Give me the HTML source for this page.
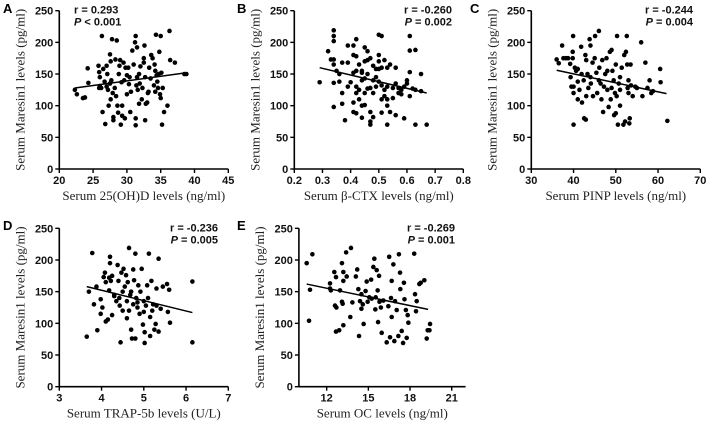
<!DOCTYPE html>
<html><head><meta charset="utf-8"><style>
html,body{margin:0;padding:0;background:#fff}
svg{display:block}
.tk{font:bold 11px "Liberation Sans",sans-serif;fill:#111}
.ttl{font:13px "Liberation Serif",serif;fill:#222}
.lt{font:bold 13px "Liberation Sans",sans-serif;fill:#000}
.an{font:bold 11px "Liberation Sans",sans-serif;fill:#111}
</style></head><body>
<svg id="fig" width="708" height="426" viewBox="0 0 708 426" xmlns="http://www.w3.org/2000/svg"></svg>
<script>
const yTicks=[0,50,100,150,200,250];
const aTicks=[20,25,30,35,40,45];
const aX=[22.3,22.6,23.5,23.8,24.2,24.3,25.8,25.9,26.0,26,25.9,26.3,26.4,26.5,26.7,26.8,27,27,27.1,27.2,27.5,27.6,27.7,27.6,27.8,27.9,28,28,28.2,28.3,28.4,28.5,28.6,28.7,28.9,29,29.1,29.3,29.3,29.5,29.6,29.7,29.8,30,30,30.2,30.3,30.5,30.6,30.8,31,31.2,31.3,31.3,31.3,31.4,31.5,31.5,31.6,31.8,31.9,32,32.2,32.3,32.5,32.5,32.6,32.7,32.7,32.8,33,33.1,33.3,33.5,33.6,33.8,34,34.1,34.2,34.3,34.4,34.5,34.6,34.7,34.8,34.9,35,35,35.1,35.2,35.3,35.5,36,36.3,36.4,37.1,38.5,38.8,26.2,27.3,28.8,30.4,33.2,31.8,29.2,27.5,34.2];
const aY=[125,118,112,113,159,136,163,153,145,131,128,210,90,158,138,71,163,130,150,125,181,170,140,110,205,120,82,77,128,173,115,203,100,89,163,172,70,100,84,168,140,80,160,118,148,160,134,90,122,187,165,200,210,80,69,132,145,192,125,150,135,162,110,128,168,175,195,145,77,103,105,120,160,143,180,175,132,165,122,212,148,138,128,150,185,118,210,112,152,70,128,90,100,218,172,168,150,150,128,100,150,145,122,103,137,135,155];
const aFit=[22.3,128,38.8,152];
const bTicks=[0.2,0.3,0.4,0.5,0.6,0.7,0.8];
const bX=[0.29,0.32,0.33,0.34,0.34,0.34,0.34,0.34,0.34,0.34,0.35,0.36,0.36,0.37,0.37,0.37,0.38,0.39,0.39,0.39,0.40,0.41,0.41,0.41,0.41,0.41,0.42,0.42,0.42,0.42,0.42,0.42,0.43,0.43,0.43,0.44,0.44,0.44,0.44,0.45,0.45,0.45,0.45,0.45,0.46,0.46,0.46,0.47,0.47,0.47,0.47,0.47,0.48,0.48,0.48,0.48,0.49,0.49,0.49,0.50,0.50,0.50,0.50,0.50,0.51,0.51,0.51,0.51,0.51,0.52,0.52,0.52,0.53,0.53,0.53,0.53,0.53,0.54,0.54,0.55,0.55,0.56,0.56,0.56,0.57,0.57,0.58,0.59,0.59,0.60,0.60,0.61,0.61,0.61,0.61,0.62,0.63,0.63,0.63,0.65,0.65,0.67,0.58,0.46,0.44];
const bY=[137,186,173,219,210,202,173,165,136,98,155,150,138,168,120,103,77,195,168,130,137,195,180,152,105,90,205,178,155,130,120,88,165,125,110,155,140,100,81,192,170,143,120,101,186,172,150,175,128,90,75,70,163,140,120,82,158,145,130,180,170,158,138,212,210,160,110,89,132,172,125,115,160,130,110,100,70,165,90,128,112,160,135,85,128,120,125,80,130,140,135,210,187,153,115,127,188,125,70,150,123,70,118,127,152];
const bFit=[0.29,160,0.67,120];
const cTicks=[30,40,50,60,70];
const cX=[36,36.5,37.3,37.6,38.2,38.7,39.2,39.3,39.5,39.8,39.8,39.9,40,40,40,40.3,40.6,41,41,41.4,41.8,41.9,42,42.4,42.5,42.8,42.9,43,43.3,43.5,43.8,44,44.1,44.5,44.6,45,45.1,45.4,45.6,46,46.1,46.4,46.6,46.8,47,47.2,47.5,47.8,48,48.3,48.6,48.8,49,49.2,49.5,49.6,49.8,50,50,50.2,50.3,50.5,50.7,51,51,51.4,51.8,52,52.2,52.4,52.6,52.7,52.8,53,53.2,53.3,53.5,53.6,54,54.6,55,56,56.3,57,57.5,58,58.4,58.8,60.5,60.6,62.2,46,44,48,51,43,41,53,49];
const cY=[173,167,195,175,175,175,166,145,130,185,175,210,70,120,130,160,155,158,138,125,193,150,105,140,80,180,78,172,150,128,205,195,135,168,115,175,210,152,120,218,160,135,110,172,90,130,150,175,125,98,185,110,188,155,140,85,120,165,88,115,210,70,135,145,100,160,70,180,75,185,210,165,128,120,72,80,165,132,115,130,128,200,115,168,128,140,120,123,158,137,76,140,145,155,125,115,110,140,128];
const cFit=[36,156,62,119];
const dTicks=[3,4,5,6,7];
const dX=[3.65,3.7,3.78,3.82,3.88,3.9,3.98,3.98,4.02,4.05,4.08,4.1,4.1,4.15,4.18,4.18,4.2,4.2,4.22,4.25,4.25,4.3,4.35,4.38,4.4,4.42,4.43,4.45,4.47,4.5,4.5,4.52,4.55,4.58,4.6,4.62,4.65,4.65,4.68,4.7,4.72,4.75,4.75,4.77,4.8,4.8,4.82,4.85,4.87,4.9,4.92,4.95,4.98,5,5.02,5.02,5.05,5.08,5.1,5.12,5.15,5.15,5.18,5.2,5.22,5.25,5.28,5.3,5.35,5.35,5.4,5.45,5.55,5.57,5.6,5.62,6.15,6.15,4.6,4.85,5.3,4.3,5,4.7];
const dY=[79,150,211,130,158,89,115,138,125,173,180,103,165,106,152,172,205,195,167,175,113,145,135,192,167,140,128,70,180,150,120,186,158,176,135,165,219,120,145,90,76,185,130,168,210,76,140,125,160,115,150,186,98,135,86,69,128,160,140,210,80,110,167,120,130,90,99,128,202,87,123,158,162,118,153,101,166,70,108,133,155,143,118,150];
const dFit=[3.65,158,6.15,117];
const eTicks=[12,15,18,21];
const eX=[10.56,10.73,10.8,10.97,12.24,12.24,12.3,12.55,12.6,12.67,12.7,12.67,12.96,12.9,13.1,13.1,13.15,13.2,13.2,13.2,13.44,13.4,13.7,13.75,13.85,14.1,14.2,14.28,14.33,14.4,14.5,14.5,14.6,14.66,14.8,14.88,14.95,15.07,15.2,15.24,15.36,15.43,15.5,15.53,15.6,15.67,15.7,15.77,15.8,15.9,15.96,16.08,16.32,16.44,16.5,16.56,16.63,16.68,16.68,16.8,16.87,16.92,17.04,17.16,17.2,17.28,17.3,17.4,17.5,17.56,17.6,17.7,17.76,17.83,17.88,18.3,18.36,18.43,18.48,18.67,18.77,19.03,19.2,19.27,19.44,19.4];
const eY=[195,104,153,209,163,155,152,181,128,173,125,87,152,89,195,134,131,181,167,97,174,212,110,219,133,174,185,154,80,135,146,123,130,99,151,166,134,141,169,139,189,202,122,141,184,152,102,175,134,125,85,136,70,127,205,78,140,167,110,193,72,135,121,80,209,180,154,88,69,164,138,121,77,113,101,210,146,119,135,162,164,168,76,89,99,89];
const eFit=[10.56,162,19.3,122];

const NS='http://www.w3.org/2000/svg';
const svg=document.getElementById('fig');
function mk(tag,attrs,parent,text){const e=document.createElementNS(NS,tag);for(const k in attrs)e.setAttribute(k,attrs[k]);if(text!==undefined)e.textContent=text;(parent||svg).appendChild(e);return e;}

function panel(id,letter,lx,ly,x0,x1,xmin,xmax,yb,yt,xticks,xs,ys,fit,xtitle,r,p,anX,anAnchor){
  const g=mk('g',{});
  
  
  const sx=v=>x0+(v-xmin)/(xmax-xmin)*(x1-x0);
  const sy=v=>yb+(v/250)*(yt-yb);
  const L=mk('text',{x:lx,y:ly,class:'lt'},g,letter);
  
  
  const ya=mk('line',{x1:x0,y1:yb,x2:x0,y2:yt,stroke:'#000','stroke-width':1.6},g);
  
  
  const xa=mk('line',{x1:x0,y1:yb,x2:x1,y2:yb,stroke:'#000','stroke-width':1.6},g);
  
  
  yTicks.forEach(t=>{const y=sy(t);
    mk('line',{x1:x0-4,y1:y,x2:x0,y2:y,stroke:'#000','stroke-width':1.4},g);
    const tl=mk('text',{x:x0-6,y:y+4,class:'tk','text-anchor':'end'},g,t);
    
    });
  xticks.forEach(t=>{const x=sx(t);
    mk('line',{x1:x,y1:yb,x2:x,y2:yb+4,stroke:'#000','stroke-width':1.4},g);
    const tl=mk('text',{x:x,y:yb+15,class:'tk','text-anchor':'middle'},g,t);
    
    });
  const xt=mk('text',{x:(x0+x1)/2,y:yb+31,class:'ttl','text-anchor':'middle'},g,xtitle);
  
  
  const cy=(yb+yt)/2;
  const yt2=mk('text',{x:0,y:0,class:'ttl','text-anchor':'middle',transform:'translate('+(x0-35)+','+cy+') rotate(-90)'},g,'Serum  Maresin1 levels (pg/ml)');
  
  
  for(let i=0;i<xs.length;i++){
    const c=mk('circle',{cx:sx(xs[i]),cy:sy(ys[i]),r:2.3,fill:'#000'},g);
    
    
  }
  const fl=mk('line',{x1:sx(fit[0]),y1:sy(fit[1]),x2:sx(fit[2]),y2:sy(fit[3]),stroke:'#000','stroke-width':1.5},g);
  
  
  const a1=mk('text',{x:anX,y:yt+3,class:'an','text-anchor':anAnchor},g,r);
  
  
  const a2=mk('text',{x:anX,y:yt+15,class:'an','text-anchor':anAnchor},g);
  
  
  mk('tspan',{'font-style':'italic'},a2,'P');
  mk('tspan',{},a2,p);
}
panel('a','A',3,13,59.3,228.3,20,45,169,10.7,aTicks,aX,aY,aFit,'Serum 25(OH)D levels (ng/ml)','r = 0.293',' < 0.001',74,'start');
panel('b','B',237,13,294.3,463.3,0.2,0.8,169,10.7,bTicks,bX,bY,bFit,'Serum β-CTX levels (ng/ml)','r = -0.260',' = 0.002',452,'end');
panel('c','C',470,13,531.3,700.3,30,70,169,10.7,cTicks,cX,cY,cFit,'Serum PINP levels (ng/ml)','r = -0.244',' = 0.004',693,'end');
panel('d','D',3,230,59.3,228.3,3,7,386.7,228.3,dTicks,dX,dY,dFit,'Serum TRAP-5b levels (U/L)','r = -0.236',' = 0.005',218,'end');
panel('e','E',237,230,298.9,465.6,10,22,386.7,228.3,eTicks,eX,eY,eFit,'Serum OC levels (ng/ml)','r = -0.269',' = 0.001',455,'end');
</script>
</body></html>
